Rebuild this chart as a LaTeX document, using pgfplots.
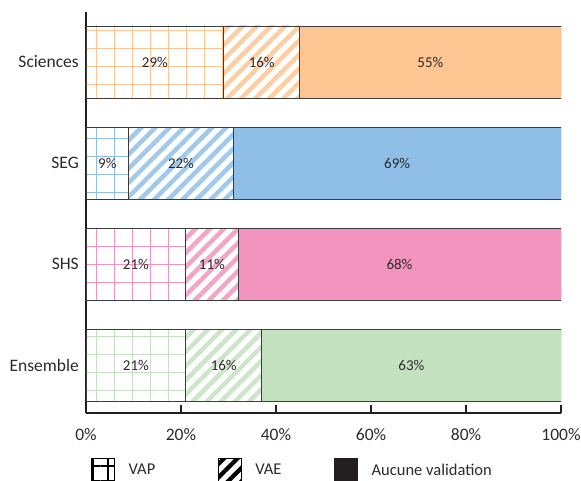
\documentclass[border=0pt]{standalone}
\usepackage{fontspec}
\setmainfont{Carlito}
\usepackage{pgfplots}
\pgfplotsset{compat=1.18}
\usetikzlibrary{patterns.meta}

\definecolor{cSci}{HTML}{FDC591}
\definecolor{cSEG}{HTML}{8FBFE6}
\definecolor{cSHS}{HTML}{F394BF}
\definecolor{cEns}{HTML}{C4E2C0}
\definecolor{bord}{HTML}{3C3C3C}
\definecolor{axc}{HTML}{231F20}
\definecolor{txt}{HTML}{2B2B2B}

\newcommand\ff{\fontsize{16.5}{19}\selectfont}
\newcommand\fb{\fontsize{17.5}{20}\selectfont}

\tikzset{
  vap/.style={preaction={fill=white}, pattern={Hatch[angle=0,distance=18pt,line width=1pt,xshift=6pt]}, pattern color=#1, draw=bord, line width=0.9pt},
  vae/.style={preaction={fill=white}, pattern={Lines[angle=45,distance=10pt,line width=4.5pt]}, pattern color=#1!85, draw=bord, line width=0.9pt},
  auc/.style={fill=#1, draw=bord, line width=0.9pt},
}

\begin{document}
\begin{tikzpicture}
\begin{axis}[
  at={(0,0)}, anchor=south west,
  scale only axis, width=475pt, height=401pt,
  xbar stacked, bar width=72pt,
  xmin=0, xmax=100, ymin=-0.475, ymax=3.495,
  axis lines*=left,
  axis line style={line width=1.4pt, color=axc},
  xtick={0,20,...,100},
  xticklabel={\pgfmathprintnumber{\tick}\%},
  /pgf/number format/assume math mode=true,
  tick align=inside, major tick length=8pt,
  x tick style={line width=1.4pt, color=axc},
  ytick={0,1,2,3},
  yticklabels={Ensemble,SHS,SEG,Sciences},
  y tick style={draw=none},
  xticklabel style={font=\fb, text=txt, inner sep=0pt, yshift=-15pt},
  yticklabel style={font=\fb, text=txt, inner sep=0pt, xshift=-7pt},
  nodes near coords={\pgfmathfloatifflags{\pgfplotspointmeta}{0}{}{\pgfmathprintnumber{\pgfplotspointmeta}\%}},
  every node near coord/.append style={anchor=center, font=\fontsize{15}{17}\selectfont, text=txt, inner sep=0pt},
  legend columns=3,
  legend cell align=left,
  legend style={draw=none, fill=none, inner sep=0pt, outer sep=0pt,
    column sep=0pt, row sep=0pt, font=\ff, text=txt,
    nodes={inner sep=0pt},
    at={(axis description cs:0.0105,-0.112)}, anchor=north west},
]
\addlegendimage{legend image code/.code={
  \draw[preaction={fill=white}, pattern={Hatch[angle=0,distance=15pt,line width=1.2pt,xshift=3pt]}, pattern color=black, draw=black, line width=0.9pt] (0pt,-16pt) rectangle (23pt,12pt);
  \path (37pt,0pt);}}
\addlegendimage{legend image code/.code={
  \draw[preaction={fill=white}, pattern={Lines[angle=45,distance=9.5pt,line width=4.2pt]}, pattern color=black, draw=black, line width=0.9pt] (0pt,-16pt) rectangle (23pt,12pt);
  \path (37pt,0pt);}}
\addlegendimage{legend image code/.code={
  \fill[axc] (0pt,-16pt) rectangle (23pt,12pt);
  \path (37pt,0pt);}}

% Sciences
\addplot[vap=cSci] coordinates {(29,3) (0,2) (0,1) (0,0)};
\addplot[vae=cSci] coordinates {(16,3) (0,2) (0,1) (0,0)};
\addplot[auc=cSci] coordinates {(55,3) (0,2) (0,1) (0,0)};
% SEG
\addplot[vap=cSEG] coordinates {(0,3) (9,2) (0,1) (0,0)};
\addplot[vae=cSEG] coordinates {(0,3) (22,2) (0,1) (0,0)};
\addplot[auc=cSEG] coordinates {(0,3) (69,2) (0,1) (0,0)};
% SHS
\addplot[vap=cSHS] coordinates {(0,3) (0,2) (21,1) (0,0)};
\addplot[vae=cSHS] coordinates {(0,3) (0,2) (11,1) (0,0)};
\addplot[auc=cSHS] coordinates {(0,3) (0,2) (68,1) (0,0)};
% Ensemble
\addplot[vap=cEns] coordinates {(0,3) (0,2) (0,1) (21,0)};
\addplot[vae=cEns] coordinates {(0,3) (0,2) (0,1) (16,0)};
\addplot[auc=cEns] coordinates {(0,3) (0,2) (0,1) (63,0)};

\legend{\makebox[89pt][l]{VAP},\makebox[79pt][l]{VAE},Aucune validation}
\end{axis}
\pgfresetboundingbox
\path[use as bounding box] (-86pt,-68pt) rectangle (495pt,413pt);
\end{tikzpicture}
\end{document}
